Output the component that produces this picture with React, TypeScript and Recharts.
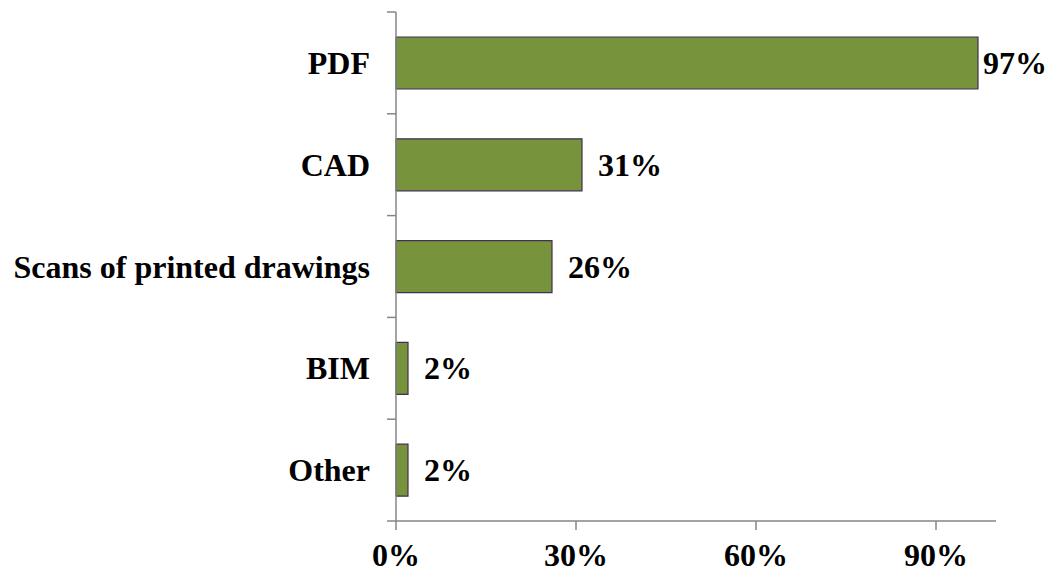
import React from 'react';
import { BarChart, Bar, XAxis, YAxis, LabelList } from 'recharts';

const categories = ['PDF', 'CAD', 'Scans of printed drawings', 'BIM', 'Other'];
const shares = [0.97, 0.31, 0.26, 0.02, 0.02];
const xTicks = [0, 0.3, 0.6, 0.9];

const data = categories.map((name, i) => ({ name, share: shares[i] }));

const FONT = "'Times New Roman', 'Liberation Serif', serif";
const AXIS_GREY = '#868686';
const TICK_SIZE = 9;
const TICK_MARGIN = 17;
const FONT_SIZE = 32;

const pct = (v: number) => `${Math.round(v * 100)}%`;

// category label plus tick marks on the band edges (Excel style)
function CategoryTick(props: any) {
  const { x, y, payload, index } = props;
  const half = payload?.offset ?? 50.9;
  const axisX = x + TICK_MARGIN + TICK_SIZE;
  const last = index === categories.length - 1;
  return (
    <g>
      <line x1={axisX - TICK_SIZE} x2={axisX} y1={y - half} y2={y - half} stroke={AXIS_GREY} strokeWidth={1.5} />
      {last && (
        <line x1={axisX - TICK_SIZE} x2={axisX} y1={y + half} y2={y + half} stroke={AXIS_GREY} strokeWidth={1.5} />
      )}
      <text
        x={x}
        y={y}
        textAnchor="end"
        dominantBaseline="central"
        fontFamily={FONT}
        fontWeight="bold"
        fontSize={FONT_SIZE}
        fill="#000"
      >
        {payload.value}
      </text>
    </g>
  );
}

function ValueLabel(props: any) {
  const { x, y, width, height, value } = props;
  // keep the longest label inside the chart
  const tx = Math.min(x + width + 16, 983);
  return (
    <text
      x={tx}
      y={y + height / 2}
      dominantBaseline="central"
      fontFamily={FONT}
      fontWeight="bold"
      fontSize={FONT_SIZE}
      fill="#000"
    >
      {pct(value)}
    </text>
  );
}

export default function App() {
  return (
    <div style={{ position: 'absolute', left: 0, top: 0, background: '#fff' }}>
      <BarChart
        width={1059}
        height={571}
        data={data}
        layout="vertical"
        margin={{ top: 12, right: 63, bottom: 0, left: 0 }}
      >
        <XAxis
          type="number"
          domain={[0, 1]}
          ticks={xTicks}
          tickFormatter={pct}
          height={50}
          axisLine={{ stroke: AXIS_GREY, strokeWidth: 1.5 }}
          tickLine={{ stroke: AXIS_GREY, strokeWidth: 1.5 }}
          tickSize={TICK_SIZE}
          tickMargin={13}
          tick={{ fontFamily: FONT, fontWeight: 'bold', fontSize: FONT_SIZE, fill: '#000' }}
        />
        <YAxis
          type="category"
          dataKey="name"
          width={396}
          axisLine={{ stroke: AXIS_GREY, strokeWidth: 1.5 }}
          tickLine={false}
          tickSize={TICK_SIZE}
          tickMargin={TICK_MARGIN}
          tick={<CategoryTick />}
          interval={0}
        />
        <Bar
          dataKey="share"
          fill="#77933C"
          stroke="#403152"
          strokeWidth={1.2}
          barSize={52}
          isAnimationActive={false}
        >
          <LabelList dataKey="share" content={<ValueLabel />} />
        </Bar>
      </BarChart>
    </div>
  );
}
